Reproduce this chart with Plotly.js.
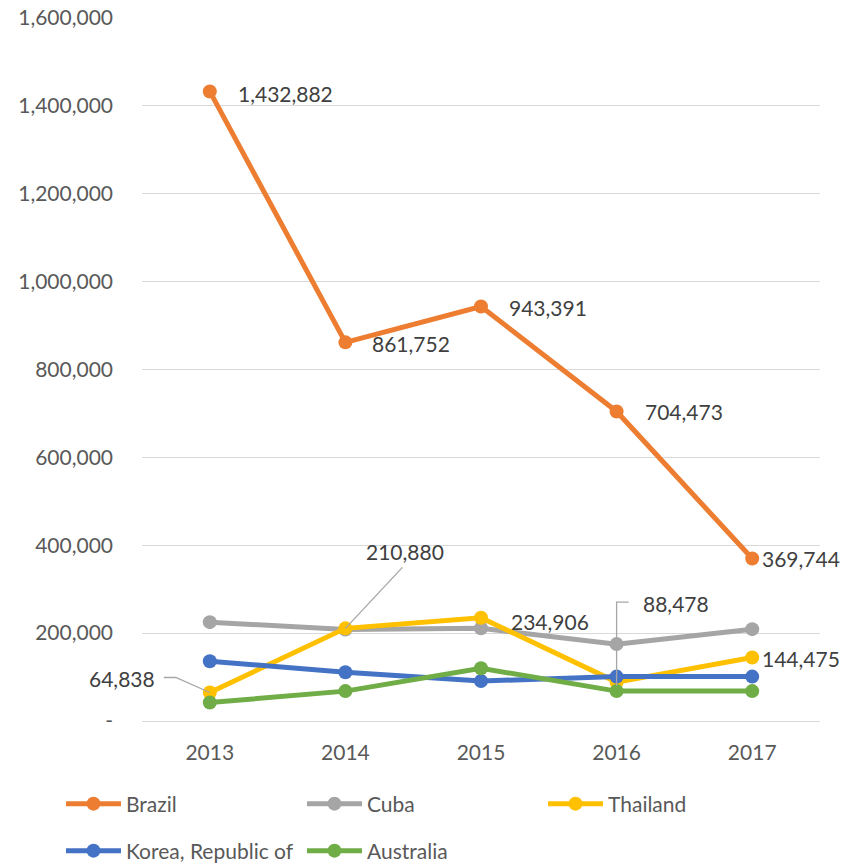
<!DOCTYPE html>
<html>
<head>
<meta charset="utf-8">
<script src="https://cdn.plot.ly/plotly-3.0.1.min.js"></script>
<style>html,body{margin:0;padding:0;background:#fff;}#chart{width:865px;height:864px;}</style>
</head>
<body>
<div id="chart"></div>
<script>
const years = ["2013", "2014", "2015", "2016", "2017"];
const brazil = [1432882, 861752, 943391, 704473, 369744];
const cuba = [225000, 208000, 211000, 175000, 209000];
const thailand = [64838, 210880, 234906, 88478, 144475];
const korea = [136000, 111000, 91000, 101000, 101000];
const australia = [42000, 68000, 120000, 68000, 68000];
const yTickVals = [0, 200000, 400000, 600000, 800000, 1000000, 1200000, 1400000, 1600000];
const yTickLabels = ["-", "200,000", "400,000", "600,000", "800,000", "1,000,000", "1,200,000", "1,400,000", "1,600,000"];

const FONT = "Lato, 'Open Sans', sans-serif";
const FS = 21;
const xIdx = years.map((_, i) => i);
const fmt = v => v.toLocaleString("en-US");

function series(name, vals, color, legend) {
  return {
    type: "scatter", mode: "lines+markers", name: name,
    x: xIdx, y: vals, legend: legend,
    line: {color: color, width: 5},
    marker: {color: color, size: 14},
    hoverinfo: "none"
  };
}

const traces = [
  series("Brazil", brazil, "#ED7D31", "legend"),
  series("Cuba", cuba, "#A5A5A5", "legend"),
  series("Thailand", thailand, "#FFC000", "legend3"),
  series("Korea, Republic of", korea, "#4472C4", "legend2"),
  series("Australia", australia, "#70AD47", "legend2")
];

const annFont = {family: FONT, size: FS, color: "#404040"};
function lab(i, v, xanchor, xs, ys) {
  return {x: i, y: v, xref: "x", yref: "y", text: fmt(v), showarrow: false,
          xanchor: xanchor, yanchor: "middle", xshift: xs, yshift: ys, font: annFont};
}
const annotations = [
  lab(0, brazil[0], "left", 26, -2),
  lab(1, brazil[1], "left", 25, -1),
  lab(2, brazil[2], "left", 26, -1),
  lab(3, brazil[3], "left", 26, 0),
  lab(4, brazil[4], "left", 8, 0),
  lab(0, thailand[0], "right", -53, 14),
  lab(1, thailand[1], "center", 60, 77),
  lab(2, thailand[2], "left", 28, -4),
  lab(3, thailand[3], "left", 24, 79),
  lab(4, thailand[4], "left", 8, -1)
];

function leader(i, v, path) {
  return {type: "path", xref: "x", yref: "y", xsizemode: "pixel", ysizemode: "pixel",
          xanchor: i, yanchor: v, path: path,
          line: {color: "#A6A6A6", width: 1.3}};
}
const shapes = [
  leader(0, thailand[0], "M0,0 L-34,15 L-46,15"),
  leader(1, thailand[1], "M0,0 L57,61"),
  leader(3, thailand[3], "M0,-4 L0,80 L12,80")
];

const legendFont = {family: FONT, size: FS, color: "#595959"};
const legendBase = {
  orientation: "h", xref: "container", yref: "container", x: 0.0705, xanchor: "left",
  yanchor: "middle", entrywidth: 171, entrywidthmode: "pixels", font: legendFont,
  bgcolor: "rgba(0,0,0,0)", traceorder: "normal", itemwidth: 55
};
const layout = {
  width: 865, height: 864,
  margin: {l: 142, r: 45, t: 18, b: 143, autoexpand: false},
  paper_bgcolor: "#fff", plot_bgcolor: "#fff",
  font: {family: FONT, size: FS, color: "#595959"},
  showlegend: true,
  xaxis: {
    range: [-0.5, 4.5], tickmode: "array", tickvals: xIdx, ticktext: years,
    showgrid: false, zeroline: false, showline: false, ticks: "",
    ticklabelstandoff: 17, fixedrange: true, automargin: false,
    tickfont: {family: FONT, size: FS, color: "#595959"}
  },
  yaxis: {
    range: [0, 1600000], tickmode: "array", tickvals: yTickVals, ticktext: yTickLabels,
    showgrid: true, gridcolor: "#D9D9D9", gridwidth: 1,
    zeroline: true, zerolinecolor: "#D9D9D9", zerolinewidth: 1,
    showline: false, ticks: "", ticklabelstandoff: 28, fixedrange: true, automargin: false,
    tickfont: {family: FONT, size: FS, color: "#595959"}
  },
  legend: Object.assign({}, legendBase, {y: 1 - 804 / 864}),
  legend3: Object.assign({}, legendBase, {y: 1 - 804 / 864, x: (61 + 2 * 241) / 865}),
  legend2: Object.assign({}, legendBase, {y: 1 - 851 / 864}),
  annotations: annotations,
  shapes: shapes
};

Plotly.newPlot("chart", traces, layout, {displayModeBar: false, staticPlot: true});
</script>
</body>
</html>
